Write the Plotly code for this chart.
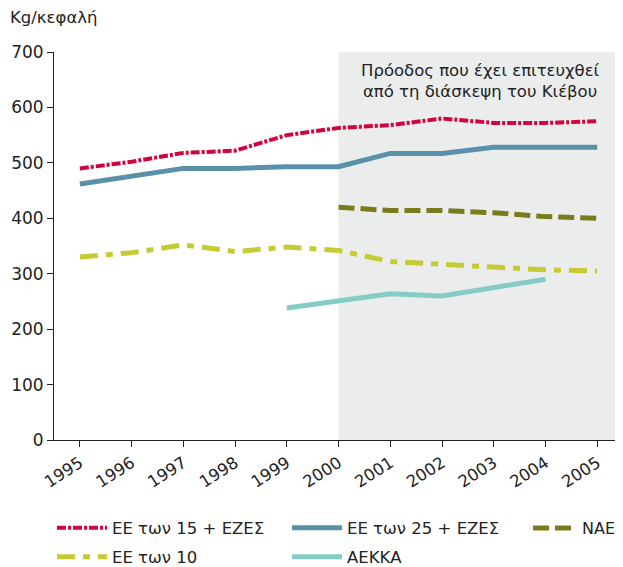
import plotly.graph_objects as go

years = list(range(1995, 2006))
eu15 = [490, 502, 518, 522, 550, 563, 568, 580, 572, 572, 575]
eu25 = [462, 475, 490, 490, 493, 493, 517, 517, 528, 528, 528]
nae_years = [2000, 2001, 2002, 2003, 2004, 2005]
nae = [420, 414, 414, 410, 403, 400]
eu10 = [330, 338, 352, 340, 348, 342, 322, 318, 312, 307, 305]
aekka_years = [1999, 2000, 2001, 2002, 2003, 2004]
aekka = [238, 250, 264, 260, 275, 290]

FONT = "DejaVu Sans"
FS = 16.5

fig = go.Figure()
fig.add_trace(go.Scatter(x=years, y=eu15, mode="lines", name="ΕΕ των 15 + ΕΖΕΣ",
                         line=dict(color="#D2043F", width=4, dash="9px,2px,3px,2px"), legend="legend"))
fig.add_trace(go.Scatter(x=years, y=eu25, mode="lines", name="ΕΕ των 25 + ΕΖΕΣ",
                         line=dict(color="#5B91A8", width=5), legend="legend"))
fig.add_trace(go.Scatter(x=nae_years, y=nae, mode="lines", name="ΝΑΕ",
                         line=dict(color="#7A7B1C", width=5, dash="16px,6px"), legend="legend3"))
fig.add_trace(go.Scatter(x=years, y=eu10, mode="lines", name="ΕΕ των 10",
                         line=dict(color="#C6CB34", width=5, dash="18px,8px,7px,8px"), legend="legend2"))
fig.add_trace(go.Scatter(x=aekka_years, y=aekka, mode="lines", name="ΑΕΚΚΑ",
                         line=dict(color="#86CCC6", width=5), legend="legend2"))

fig.add_shape(type="rect", xref="x", yref="y", x0=2000, x1=2005.6, y0=0, y1=700,
              fillcolor="#EBEDEC", line_width=0, layer="below")

fig.add_annotation(xref="x", yref="y", x=2002.75, y=687, yanchor="top",
                   text="Πρόοδος που έχει επιτευχθεί<br>από τη διάσκεψη του Κιέβου",
                   showarrow=False, font=dict(family=FONT, size=FS, color="#222"), align="center")

fig.add_annotation(xref="paper", yref="paper", x=-0.081, y=1.09, xanchor="left", yanchor="middle",
                   text="Kg/κεφαλή", showarrow=False, font=dict(family=FONT, size=FS, color="#222"))

leg = dict(orientation="h", xanchor="left", yanchor="middle", font=dict(family=FONT, size=FS, color="#222"),
           itemwidth=50, entrywidth=170, bgcolor="rgba(0,0,0,0)", tracegroupgap=0)
fig.update_layout(
    width=615, height=559,
    margin=dict(l=46, r=2, t=44, b=127, autoexpand=False),
    paper_bgcolor="white", plot_bgcolor="white",
    font=dict(family=FONT, size=FS, color="#222"),
    legend=dict(leg, x=-0.0035, y=-0.2268),
    legend3=dict(leg, x=0.836, y=-0.2268, itemwidth=44, entrywidth=40,
                 font=dict(family=FONT, size=16, color="#222")),
    legend2=dict(leg, x=-0.0035, y=-0.3015),
    xaxis=dict(range=[1994.5, 2005.46], tickmode="array", tickvals=years,
               ticktext=[str(y) for y in years], tickangle=-33, showgrid=False,
               showline=True, linecolor="#222", linewidth=1, ticks="outside", ticklen=6,
               tickcolor="#222", zeroline=False, tickfont=dict(family=FONT, size=FS)),
    yaxis=dict(range=[0, 700], tickvals=[0, 100, 200, 300, 400, 500, 600, 700], showgrid=False,
               showline=True, linecolor="#222", linewidth=1, ticks="outside", ticklen=6,
               tickcolor="#222", zeroline=False, tickfont=dict(family=FONT, size=17)),
)

fig.write_html("out.html")
